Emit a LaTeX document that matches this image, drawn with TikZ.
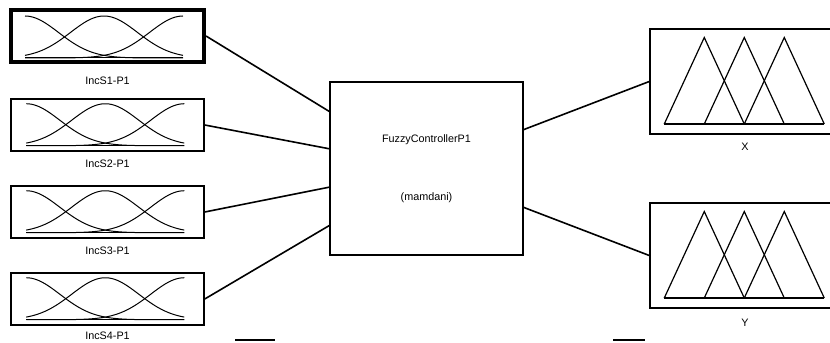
\documentclass[tikz,border=0pt]{standalone}
\usepackage{fontspec}
\setmainfont{Liberation Sans}
\usetikzlibrary{positioning,calc}

\tikzset{
  mfbox/.style={draw, line width=1.1pt, minimum width=144.75pt, minimum height=39pt, inner sep=0pt},
  outbox/.style={draw, line width=1.1pt, minimum width=142.5pt, minimum height=78.75pt, inner sep=0pt},
  ctrlbox/.style={draw, line width=1.1pt, minimum width=144.75pt, minimum height=129.75pt, align=center, font=\fontsize{8.1}{9.5}\selectfont},
  lbl/.style={inner sep=0.75pt, font=\fontsize{8.1}{9.5}\selectfont},
  wire/.style={line width=1.2pt},
  mf/.style={line width=0.75pt},
  tri/.style={line width=0.9pt, line join=miter},
}

\begin{document}
\begin{tikzpicture}[x=0.75pt,y=0.75pt,yscale=-1,xscale=1]
  \path[use as bounding box] (0,0) rectangle (830,342);
  \clip (0,0) rectangle (830,342);

  % Input blocks
  \node [mfbox, line width=3pt] (in1) at (107.5,36) {};
  \node [mfbox] (in2) at (107.5,125) {};
  \node [mfbox] (in3) at (107.5,212) {};
  \node [mfbox] (in4) at (107.5,299) {};

  % Gaussian membership curves
  \foreach \n in {1,...,4}{
    \begin{scope}[shift={(in\n.south west)}]
      \draw [mf] (16,-6) -- (174,-6);
      \foreach \c in {0,79,158}
        \draw [mf] plot [domain=0:158, samples=60, smooth] ({16+\x}, {-6-42*exp(-0.5*((\x-\c)/33.6)^2)});
    \end{scope}
  }

  % Text Node
  \node [lbl, below=8.5pt of in1] (l1) {IncS1-P1};
  \node [lbl, below=5pt of in2] (l2) {IncS2-P1};
  \node [lbl, below=5pt of in3] (l3) {IncS3-P1};
  \node [lbl, below=4pt of in4] (l4) {IncS4-P1};

  % Controller
  \node [ctrlbox] (ctrl) at (426.5,168.5) {FuzzyControllerP1\\[34pt](mamdani)};

  % Output blocks
  \node [outbox] (outx) at (745,81.5) {};
  \node [outbox] (outy) at (745,255.5) {};

  % Triangular membership functions
  \foreach \o in {outx,outy}{
    \begin{scope}[shift={(\o.west)}]
      \draw [tri] (15,42.5) -- (175,42.5);
      \foreach \t in {15,55,95}
        \draw [tri] (\t,42.5) -- (\t+40,-44) -- (\t+80,42.5);
    \end{scope}
  }

  % Text Node
  \node [lbl, below=5pt of outx] (lx) {X};
  \node [lbl, below=6.5pt of outy] (ly) {Y};

  % Straight Lines
  \foreach \n/\f in {1/0.173,2/0.387,3/0.607,4/0.827}
    \draw [wire] (in\n.east) -- ($(ctrl.north west)!\f!(ctrl.south west)$);
  \draw [wire] ($(ctrl.north east)!0.277!(ctrl.south east)$) -- (outx.west);
  \draw [wire] ($(ctrl.north east)!0.723!(ctrl.south east)$) -- (outy.west);

  % Straight Lines
  \draw [line width=0.9pt] (235,340) -- (275,340);
  \draw [line width=0.9pt] (613,340) -- (645,340);
\end{tikzpicture}
\end{document}
